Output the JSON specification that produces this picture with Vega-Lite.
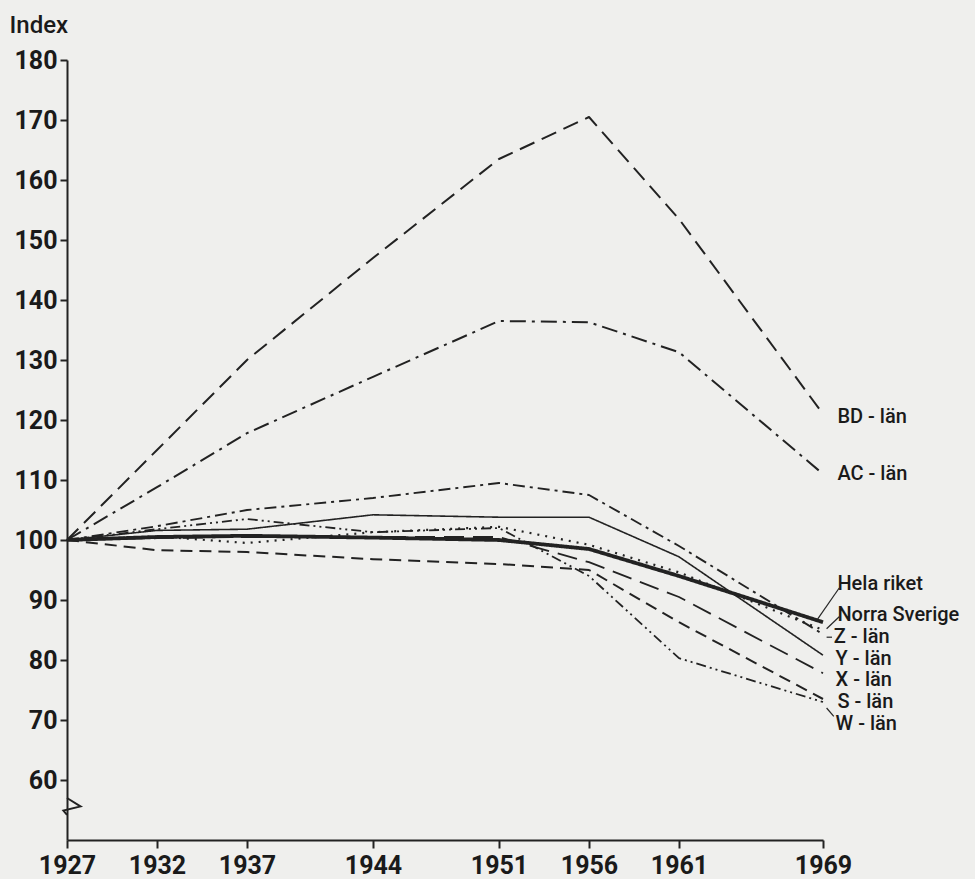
{
  "$schema": "https://vega.github.io/schema/vega-lite/v6.json",
  "width": 756,
  "height": 780,
  "autosize": {"type": "none"},
  "padding": {"left": 67, "top": 60, "right": 152, "bottom": 39},
  "background": "#efefed",
  "config": {"view": {"stroke": null}, "font": "Roboto"},
  "datasets": {
    "lines": [
      {"series": "BD", "year": 1927, "value": 100}, {"series": "BD", "year": 1932, "value": 115}, {"series": "BD", "year": 1937, "value": 130}, {"series": "BD", "year": 1944, "value": 147}, {"series": "BD", "year": 1951, "value": 163.5}, {"series": "BD", "year": 1956, "value": 170.5}, {"series": "BD", "year": 1961, "value": 153.5}, {"series": "BD", "year": 1969, "value": 121},
      {"series": "AC", "year": 1927, "value": 100}, {"series": "AC", "year": 1932, "value": 108.8}, {"series": "AC", "year": 1937, "value": 117.8}, {"series": "AC", "year": 1944, "value": 127.2}, {"series": "AC", "year": 1951, "value": 136.5}, {"series": "AC", "year": 1956, "value": 136.3}, {"series": "AC", "year": 1961, "value": 131.3}, {"series": "AC", "year": 1969, "value": 111},
      {"series": "Norra Sverige", "year": 1927, "value": 100}, {"series": "Norra Sverige", "year": 1932, "value": 100.6}, {"series": "Norra Sverige", "year": 1937, "value": 99.5}, {"series": "Norra Sverige", "year": 1944, "value": 101.3}, {"series": "Norra Sverige", "year": 1951, "value": 102.2}, {"series": "Norra Sverige", "year": 1956, "value": 99.2}, {"series": "Norra Sverige", "year": 1961, "value": 94.6}, {"series": "Norra Sverige", "year": 1969, "value": 85},
      {"series": "Z", "year": 1927, "value": 100}, {"series": "Z", "year": 1932, "value": 102.3}, {"series": "Z", "year": 1937, "value": 105}, {"series": "Z", "year": 1944, "value": 107}, {"series": "Z", "year": 1951, "value": 109.5}, {"series": "Z", "year": 1956, "value": 107.5}, {"series": "Z", "year": 1961, "value": 99}, {"series": "Z", "year": 1969, "value": 84.3},
      {"series": "Y", "year": 1927, "value": 100}, {"series": "Y", "year": 1932, "value": 101.6}, {"series": "Y", "year": 1937, "value": 101.8}, {"series": "Y", "year": 1944, "value": 104.2}, {"series": "Y", "year": 1951, "value": 103.8}, {"series": "Y", "year": 1956, "value": 103.8}, {"series": "Y", "year": 1961, "value": 97.2}, {"series": "Y", "year": 1969, "value": 80.8},
      {"series": "X", "year": 1927, "value": 100}, {"series": "X", "year": 1932, "value": 100.3}, {"series": "X", "year": 1937, "value": 100.5}, {"series": "X", "year": 1944, "value": 100.5}, {"series": "X", "year": 1951, "value": 100.5}, {"series": "X", "year": 1956, "value": 96.3}, {"series": "X", "year": 1961, "value": 90.5}, {"series": "X", "year": 1969, "value": 77.8},
      {"series": "S", "year": 1927, "value": 100}, {"series": "S", "year": 1932, "value": 98.3}, {"series": "S", "year": 1937, "value": 98}, {"series": "S", "year": 1944, "value": 96.8}, {"series": "S", "year": 1951, "value": 96}, {"series": "S", "year": 1956, "value": 95}, {"series": "S", "year": 1961, "value": 86.3}, {"series": "S", "year": 1969, "value": 73.5},
      {"series": "W", "year": 1927, "value": 100}, {"series": "W", "year": 1932, "value": 101.8}, {"series": "W", "year": 1937, "value": 103.5}, {"series": "W", "year": 1944, "value": 101.3}, {"series": "W", "year": 1951, "value": 102}, {"series": "W", "year": 1956, "value": 94}, {"series": "W", "year": 1961, "value": 80.3}, {"series": "W", "year": 1969, "value": 73},
      {"series": "Hela riket", "year": 1927, "value": 100}, {"series": "Hela riket", "year": 1932, "value": 100.5}, {"series": "Hela riket", "year": 1937, "value": 100.7}, {"series": "Hela riket", "year": 1944, "value": 100.4}, {"series": "Hela riket", "year": 1951, "value": 100}, {"series": "Hela riket", "year": 1956, "value": 98.5}, {"series": "Hela riket", "year": 1961, "value": 94}, {"series": "Hela riket", "year": 1969, "value": 86.3}
    ],
    "labels": [
      {"label": "BD - län", "year": 1969.8, "value": 120.5},
      {"label": "AC - län", "year": 1969.8, "value": 111},
      {"label": "Hela riket", "year": 1969.8, "value": 92.6},
      {"label": "Norra Sverige", "year": 1969.8, "value": 87.5},
      {"label": "Z - län", "year": 1969.6, "value": 83.8},
      {"label": "Y - län", "year": 1969.7, "value": 80.2},
      {"label": "X - län", "year": 1969.7, "value": 76.6},
      {"label": "S - län", "year": 1969.8, "value": 73},
      {"label": "W - län", "year": 1969.7, "value": 69.4}
    ],
    "leaders": [
      {"year": 1968.7, "value": 86.8, "year2": 1969.9, "value2": 92.0},
      {"year": 1969.2, "value": 85.2, "year2": 1969.9, "value2": 87.2},
      {"year": 1969.2, "value": 83.8, "year2": 1969.5, "value2": 83.8},
      {"year": 1969.2, "value": 72.0, "year2": 1969.6, "value2": 70.6}
    ],
    "brk": [
      {"i": 0, "year": 1927, "value": 57},
      {"i": 1, "year": 1927.75, "value": 55.6},
      {"i": 2, "year": 1926.8, "value": 54.9},
      {"i": 3, "year": 1927, "value": 54.2}
    ]
  },
  "layer": [
    {
      "data": {"name": "lines"},
      "mark": {"type": "line", "color": "#222222", "strokeCap": "butt", "strokeJoin": "round"},
      "encoding": {
        "x": {
          "field": "year", "type": "quantitative",
          "scale": {"domain": [1927, 1969], "nice": false, "zero": false},
          "axis": {
            "values": [1927, 1932, 1937, 1944, 1951, 1956, 1961, 1969],
            "format": "d", "title": null, "grid": false,
            "labelFontSize": 25, "labelFontWeight": "bold", "labelColor": "#1a1a1a",
            "labelFlush": false, "labelOverlap": false, "labelPadding": 5,
            "tickSize": 8, "tickWidth": 2, "tickColor": "#222",
            "domainWidth": 2, "domainColor": "#222"
          }
        },
        "y": {
          "field": "value", "type": "quantitative",
          "scale": {"domain": [50, 180], "nice": false, "zero": false},
          "axis": {
            "values": [60, 70, 80, 90, 100, 110, 120, 130, 140, 150, 160, 170, 180],
            "title": "Index", "titleAngle": 0, "titleAlign": "left", "titleBaseline": "alphabetic",
            "titleX": -58, "titleY": -28, "titleFontSize": 24, "titleFontWeight": 500, "titleColor": "#1a1a1a",
            "grid": false,
            "labelFontSize": 25, "labelFontWeight": "bold", "labelColor": "#1a1a1a",
            "labelFlush": false, "labelOverlap": false, "labelPadding": 3,
            "tickSize": 7, "tickWidth": 2, "tickColor": "#222",
            "domainWidth": 2, "domainColor": "#222"
          }
        },
        "detail": {"field": "series"},
        "order": {"field": "year"},
        "strokeDash": {
          "field": "series", "type": "nominal", "legend": null,
          "scale": {
            "domain": ["BD", "AC", "Hela riket", "Norra Sverige", "Z", "Y", "X", "S", "W"],
            "range": [[16, 8], [16, 6, 3, 6], [1, 0], [2, 6], [12, 5, 3, 5], [1, 0], [20, 9], [12, 7], [10, 4, 2, 4, 2, 4]]
          }
        },
        "strokeWidth": {
          "field": "series", "type": "ordinal", "legend": null,
          "scale": {
            "type": "ordinal",
            "domain": ["BD", "AC", "Hela riket", "Norra Sverige", "Z", "Y", "X", "S", "W"],
            "range": [2, 2, 3.8, 2.2, 1.9, 1.6, 1.8, 2, 1.8]
          }
        }
      }
    },
    {
      "data": {"name": "labels"},
      "mark": {"type": "text", "align": "left", "baseline": "middle", "fontSize": 20, "fontWeight": 500, "color": "#1a1a1a"},
      "encoding": {
        "x": {"field": "year", "type": "quantitative"},
        "y": {"field": "value", "type": "quantitative"},
        "text": {"field": "label"}
      }
    },
    {
      "data": {"name": "leaders"},
      "mark": {"type": "rule", "color": "#262626", "strokeWidth": 1.2},
      "encoding": {
        "x": {"field": "year", "type": "quantitative"},
        "x2": {"field": "year2"},
        "y": {"field": "value", "type": "quantitative"},
        "y2": {"field": "value2"}
      }
    },
    {
      "data": {"name": "brk"},
      "mark": {"type": "line", "color": "#222", "strokeWidth": 2},
      "encoding": {
        "x": {"field": "year", "type": "quantitative"},
        "y": {"field": "value", "type": "quantitative"},
        "order": {"field": "i"}
      }
    }
  ]
}
